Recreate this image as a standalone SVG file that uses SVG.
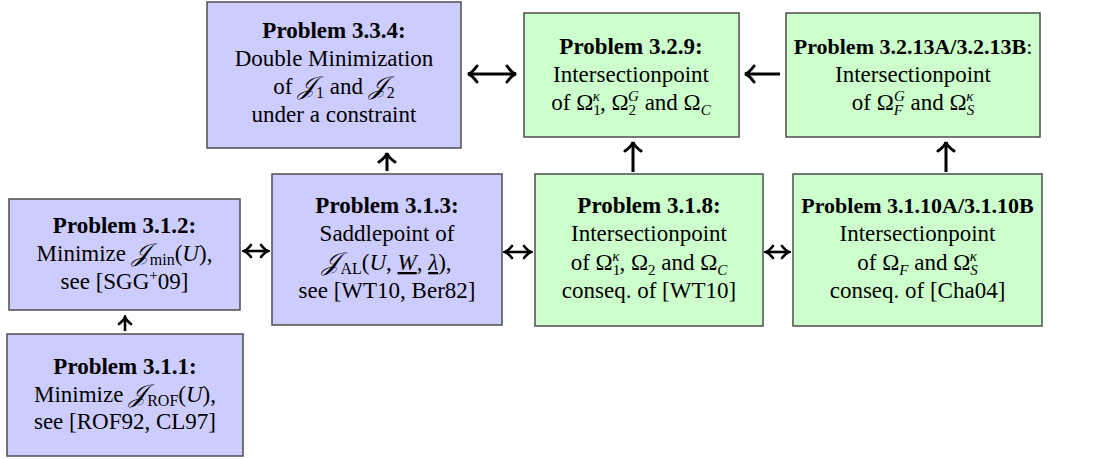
<svg xmlns="http://www.w3.org/2000/svg" width="1097" height="459" viewBox="0 0 1097 459">
<style>
.box{stroke:#4d4d4d;stroke-width:1.5}
.blue{fill:#ccccff}
.green{fill:#ccffcc}
text{font-family:"Liberation Serif","Times New Roman",serif;font-size:23px;fill:#000;text-anchor:middle}
.b{font-weight:bold}
.lh{font-size:22px}
.i{font-style:italic}
.s{font-size:15px}
.sc{font-size:16px}
.J{font-style:italic;font-size:25px}
.arr{stroke:#000;stroke-width:3;fill:none}
.sarr{stroke:#000;stroke-width:2.6;fill:none}
</style>
<defs>
<marker id="ah" viewBox="-12 -10 14 20" markerWidth="14" markerHeight="20" refX="0" refY="0" orient="auto-start-reverse" markerUnits="userSpaceOnUse">
<path d="M-9,-8 Q-4,-1 0,0 Q-4,1 -9,8" fill="none" stroke="#000" stroke-width="3" stroke-linecap="round"/>
</marker>
<marker id="sh" viewBox="-10 -8 12 16" markerWidth="12" markerHeight="16" refX="0" refY="0" orient="auto-start-reverse" markerUnits="userSpaceOnUse">
<path d="M-7,-6 Q-3,-1 0,0 Q-3,1 -7,6" fill="none" stroke="#000" stroke-width="2.6" stroke-linecap="round"/>
</marker>
</defs>

<g id="p334">
<rect class="box blue" x="207" y="2" width="254" height="146"/>
<text class="b" x="334" y="38">Problem 3.3.4:</text>
<text x="334" y="66">Double Minimization</text>
<text x="334" y="94">of <tspan class="J">𝒥</tspan><tspan class="sc" dx="1" dy="4">1</tspan><tspan dy="-4"> and </tspan><tspan class="J">𝒥</tspan><tspan class="sc" dx="1" dy="4">2</tspan></text>
<text x="334" y="122">under a constraint</text>
</g>

<g id="p329">
<rect class="box green" x="524" y="13" width="215" height="124"/>
<text class="b" x="631" y="54">Problem 3.2.9:</text>
<text x="631" y="82">Intersectionpoint</text>
<text x="631" y="110">of Ω<tspan class="s" dy="5">1</tspan><tspan class="s i" dx="-8" dy="-14">κ</tspan><tspan dy="9">, Ω</tspan><tspan class="s" dy="5">2</tspan><tspan class="s i" dx="-8" dy="-14">G</tspan><tspan dy="9"> and Ω</tspan><tspan class="s i" dy="5">C</tspan></text>
</g>

<g id="p3213">
<rect class="box green" x="786" y="13" width="254" height="124"/>
<text class="lh" x="913" y="54"><tspan class="b">Problem 3.2.13A/3.2.13B</tspan>:</text>
<text x="913" y="82">Intersectionpoint</text>
<text x="913" y="110">of Ω<tspan class="s i" dy="5">F</tspan><tspan class="s i" dx="-9" dy="-14">G</tspan><tspan dy="9"> and Ω</tspan><tspan class="s i" dy="5">S</tspan><tspan class="s i" dx="-8" dy="-14">κ</tspan></text>
</g>

<g id="p312">
<rect class="box blue" x="9" y="199" width="231" height="111"/>
<text class="b" x="124.5" y="233">Problem 3.1.2:</text>
<text x="124.5" y="261">Minimize <tspan class="J">𝒥</tspan><tspan class="sc" dx="1" dy="4">min</tspan><tspan dy="-4">(</tspan><tspan class="i">U</tspan>),</text>
<text x="124.5" y="289">see [SGG<tspan class="s" dy="-9">+</tspan><tspan dy="9">09]</tspan></text>
</g>

<g id="p313">
<rect class="box blue" x="272" y="174" width="230" height="151"/>
<text class="b" x="387" y="213">Problem 3.1.3:</text>
<text x="387" y="241">Saddlepoint of</text>
<text x="387" y="270"><tspan class="J">𝒥</tspan><tspan class="sc" dx="1" dy="4">AL</tspan><tspan dy="-4">(</tspan><tspan class="i">U</tspan>, <tspan class="i" text-decoration="underline">W</tspan>, <tspan class="i" text-decoration="underline">λ</tspan>),</text>
<text x="387" y="298">see [WT10, Ber82]</text>
</g>

<g id="p318">
<rect class="box green" x="535" y="174" width="228" height="152"/>
<text class="b" x="649" y="213">Problem 3.1.8:</text>
<text x="649" y="241">Intersectionpoint</text>
<text x="649" y="270">of Ω<tspan class="s" dy="5">1</tspan><tspan class="s i" dx="-8" dy="-14">κ</tspan><tspan dy="9">, Ω</tspan><tspan class="s" dy="5">2</tspan><tspan dy="-5"> and Ω</tspan><tspan class="s i" dy="5">C</tspan></text>
<text x="649" y="298">conseq. of [WT10]</text>
</g>

<g id="p3110">
<rect class="box green" x="793" y="174" width="249" height="152"/>
<text class="b lh" x="917.5" y="213">Problem 3.1.10A/3.1.10B</text>
<text x="917.5" y="241">Intersectionpoint</text>
<text x="917.5" y="270">of Ω<tspan class="s i" dy="5">F</tspan><tspan dy="-5"> and Ω</tspan><tspan class="s i" dy="5">S</tspan><tspan class="s i" dx="-8" dy="-14">κ</tspan></text>
<text x="917.5" y="298">conseq. of [Cha04]</text>
</g>

<g id="p311">
<rect class="box blue" x="7" y="334" width="236" height="122"/>
<text class="b" x="125" y="374">Problem 3.1.1:</text>
<text x="125" y="402">Minimize <tspan class="J">𝒥</tspan><tspan class="sc" dx="1" dy="4">ROF</tspan><tspan dy="-4">(</tspan><tspan class="i">U</tspan>),</text>
<text x="125" y="429">see [ROF92, CL97]</text>
</g>

<g id="connectors">
<line class="arr" x1="468" y1="74" x2="516" y2="74" marker-start="url(#ah)" marker-end="url(#ah)"/>
<line class="arr" x1="780" y1="74" x2="745" y2="74" marker-end="url(#ah)"/>
<line class="arr" x1="387" y1="171" x2="387" y2="153" marker-end="url(#ah)"/>
<line class="arr" x1="633" y1="172" x2="633" y2="142" marker-end="url(#ah)"/>
<line class="arr" x1="946" y1="172" x2="946" y2="142" marker-end="url(#ah)"/>
<line class="sarr" x1="244" y1="251" x2="268" y2="251" marker-start="url(#sh)" marker-end="url(#sh)"/>
<line class="sarr" x1="505" y1="252" x2="531" y2="252" marker-start="url(#sh)" marker-end="url(#sh)"/>
<line class="sarr" x1="766" y1="252" x2="789" y2="252" marker-start="url(#sh)" marker-end="url(#sh)"/>
<line class="sarr" x1="125" y1="331" x2="125" y2="317" marker-end="url(#sh)"/>
</g>
</svg>
